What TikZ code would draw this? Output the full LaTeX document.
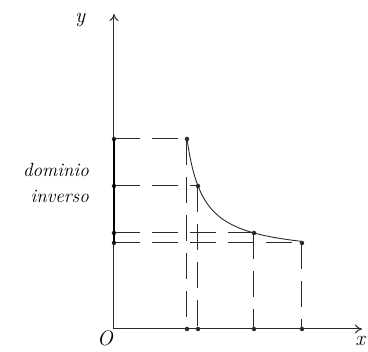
\documentclass[tikz,border=0pt]{standalone}
\usepackage{tikz}
\usetikzlibrary{arrows.meta,calc}
\definecolor{InkDark}{HTML}{2A2A2A}

\begin{document}
\begin{tikzpicture}[x=1pt, y=1pt,
  axis/.style={line width=1pt, draw=InkDark, -{To[length=7pt,width=9pt]}},
  guide/.style={line width=1pt, draw=InkDark, dash pattern=on 26pt off 12pt},
  dot/.style={circle, fill=InkDark, inner sep=0pt, minimum size=4.5pt},
  lab/.style={font=\fontsize{21}{24}\selectfont\itshape, inner sep=0pt},
]
\useasboundingbox (0,0) rectangle (368,352);
% axes
\coordinate (O) at (114,23);
\draw[axis] (O) -- (114,338) coordinate (ytip);
\draw[axis] (O) -- (362,23) coordinate (xtip);
\node[lab] (ylab) at (80,332) {y};
\node[lab] (olab) at (105,14) {O};
\node[lab] (xlab) at (360,11) {x};
% curve
\draw[line width=0.9pt, draw=InkDark] plot[domain=187:302, samples=60] (\x, {96+1919/(\x-170.6)});
% points, guides
\foreach \n/\px/\py in {a/187/213, b/198/166, c/254/119, d/302/109}{
  \node[dot] (p\n) at (\px,\py) {};
  \node[dot] (y\n) at (114,\py) {};
  \node[dot] (x\n) at (\px,23) {};
  \draw[guide] (y\n.center) -- (p\n.center);
  \draw[guide] (p\n.center) -- (x\n.center);
}
% inverse domain
\draw[line width=2.6pt, draw=black] (ya.center) -- (yd.center);
\node[lab, font=\fontsize{19}{22}\selectfont\itshape, anchor=base east] (dom) at (89,175) {dominio};
\node[lab, font=\fontsize{19}{22}\selectfont\itshape, anchor=base east] (inv) at (89,149) {inverso};
\end{tikzpicture}
\end{document}
